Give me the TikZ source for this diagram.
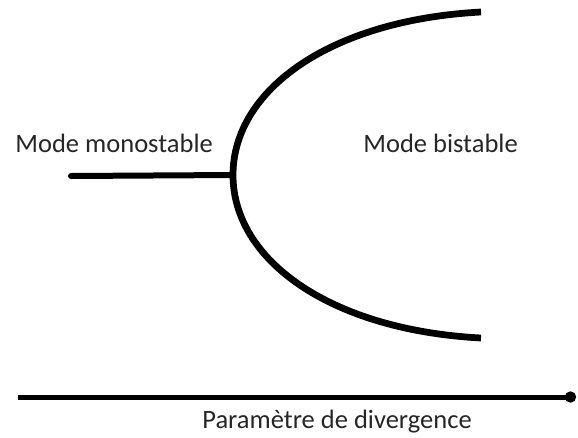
\documentclass[tikz,border=0pt]{standalone}
\usepackage{fontspec}
\setmainfont{Carlito}
\usetikzlibrary{arrows.meta}
\tikzset{
	lbl/.style={anchor=base west, inner sep=0pt, text=black!85, font=\fontsize{15.1}{18}\selectfont},
}

\begin{document}
\begin{tikzpicture}[x=0.02cm, y=-0.02cm]
			%%%%% START %%%%%
			\useasboundingbox (0, 0) rectangle (578, 437);
			
			\coordinate (fork) at (233, 175);
			\coordinate (top) at (481, 12);
			\coordinate (bot) at (481, 338);
			
			\draw[line width=0.12cm, line cap=round] (71, 176) -- (fork);
			\draw[line width=0.135cm] (top) .. controls (330, 20) and (233, 90) .. (fork) .. controls (233, 260) and (330, 330) .. (bot);
			
			\node[lbl] (mono) at (15, 152) {Mode monostable};
			\node[lbl] (bi) at (363, 152) {Mode bistable};
			
			\coordinate (axstart) at (18, 397);
			\coordinate (axend) at (576, 397);
			\draw[line width=0.1cm, -{Circle[length=0.22cm]}] (axstart) -- (axend);
			\node[lbl] (param) at (202, 428) {Paramètre de divergence};
			%%%%% END %%%%%
\end{tikzpicture}
\end{document}
